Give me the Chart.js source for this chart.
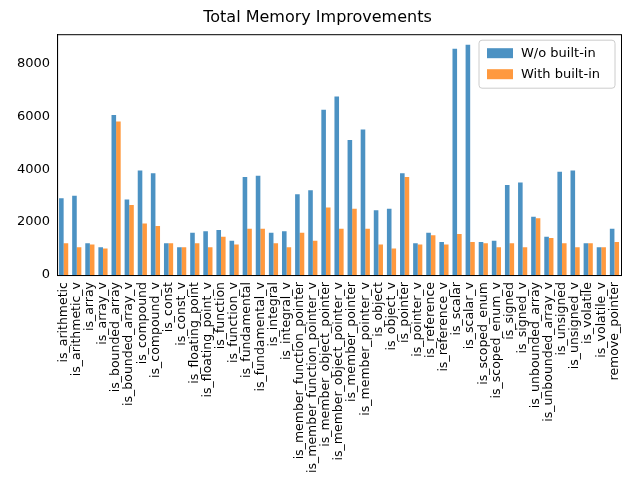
<!DOCTYPE html>
<html>
<head>
<script src="https://cdn.jsdelivr.net/npm/chart.js@4"></script>
<style>body{margin:0;background:#fff}#wrap{width:640px;height:480px}</style>
</head>
<body>
<div id="wrap"><canvas id="c"></canvas></div>
<script>
const categorias = ["is_arithmetic","is_arithmetic_v","is_array","is_array_v","is_bounded_array","is_bounded_array_v","is_compound","is_compound_v","is_const","is_const_v","is_floating_point","is_floating_point_v","is_function","is_function_v","is_fundamental","is_fundamental_v","is_integral","is_integral_v","is_member_function_pointer","is_member_function_pointer_v","is_member_object_pointer","is_member_object_pointer_v","is_member_pointer","is_member_pointer_v","is_object","is_object_v","is_pointer","is_pointer_v","is_reference","is_reference_v","is_scalar","is_scalar_v","is_scoped_enum","is_scoped_enum_v","is_signed","is_signed_v","is_unbounded_array","is_unbounded_array_v","is_unsigned","is_unsigned_v","is_volatile","is_volatile_v","remove_pointer"];
const sinBuiltin = [2900,3000,1200,1050,6050,2850,3950,3850,1200,1050,1600,1650,1700,1300,3700,3750,1600,1650,3050,3200,6250,6750,5100,5500,2450,2500,3850,1200,1600,1250,8550,8700,1250,1300,3400,3500,2200,1450,3900,3950,1200,1050,1750];
const conBuiltin = [1200,1050,1150,1000,5800,2650,1950,1850,1200,1050,1200,1050,1450,1150,1750,1750,1200,1050,1600,1300,2550,1750,2500,1750,1150,1000,3700,1150,1500,1150,1550,1250,1200,1050,1200,1050,2150,1400,1200,1050,1200,1050,1250];
const ticksY = [0,2000,4000,6000,8000];

const azul = "rgba(31,119,180,0.8)";
const naranja = "rgba(255,127,14,0.8)";

// marco completo y leyenda arriba a la derecha
const extras = {
  id: "extras",
  afterDraw(chart) {
    const ctx = chart.ctx, a = chart.chartArea;
    ctx.save();
    ctx.strokeStyle = "#000"; ctx.lineWidth = 1;
    ctx.strokeRect(a.left + 0.5, a.top + 0.5, a.right - a.left, a.bottom - a.top);
    const w = 136, h = 48, x = a.right - w - 6, y = a.top + 6;
    ctx.fillStyle = "rgba(255,255,255,0.8)";
    ctx.strokeStyle = "#ccc";
    ctx.beginPath(); ctx.roundRect(x, y, w, h, 3); ctx.fill(); ctx.stroke();
    ctx.font = "13px 'DejaVu Sans'";
    ctx.textBaseline = "middle";
    [["W/o built-in", azul], ["With built-in", naranja]].forEach((it, i) => {
      const yy = y + 13 + i * 21;
      ctx.fillStyle = it[1];
      ctx.fillRect(x + 8, yy - 5, 26, 10);
      ctx.fillStyle = "#000";
      ctx.fillText(it[0], x + 42, yy);
    });
    ctx.restore();
  }
};

new Chart(document.getElementById("c"), {
  type: "bar",
  data: {
    labels: categorias,
    datasets: [
      { label: "W/o built-in", data: sinBuiltin, backgroundColor: azul },
      { label: "With built-in", data: conBuiltin, backgroundColor: naranja }
    ]
  },
  options: {
    responsive: true, maintainAspectRatio: false, animation: false,
    layout: { padding: { left: 14, right: 19, top: 4, bottom: 4 } },
    datasets: { bar: { categoryPercentage: 0.7, barPercentage: 1 } },
    plugins: {
      legend: { display: false },
      title: { display: true, text: "Total Memory Improvements", color: "#000",
        font: { family: "DejaVu Sans", size: 16, weight: "normal" }, padding: { top: 4, bottom: 7 } },
      tooltip: { enabled: false }
    },
    scales: {
      x: {
        offset: true,
        grid: { display: false, drawTicks: true, tickLength: 4 },
        border: { color: "#000" },
        ticks: { color: "#000", autoSkip: false, maxRotation: 90, minRotation: 90,
          font: { family: "DejaVu Sans", size: 12.5 } }
      },
      y: {
        min: 0, max: 9100,
        afterBuildTicks(s) { s.ticks = ticksY.map(v => ({ value: v })); },
        grid: { display: false, drawTicks: true, tickLength: 4 },
        border: { color: "#000" },
        ticks: { color: "#000", callback: v => String(v), font: { family: "DejaVu Sans", size: 13 } }
      }
    }
  },
  plugins: [extras]
});
</script>
</body>
</html>
